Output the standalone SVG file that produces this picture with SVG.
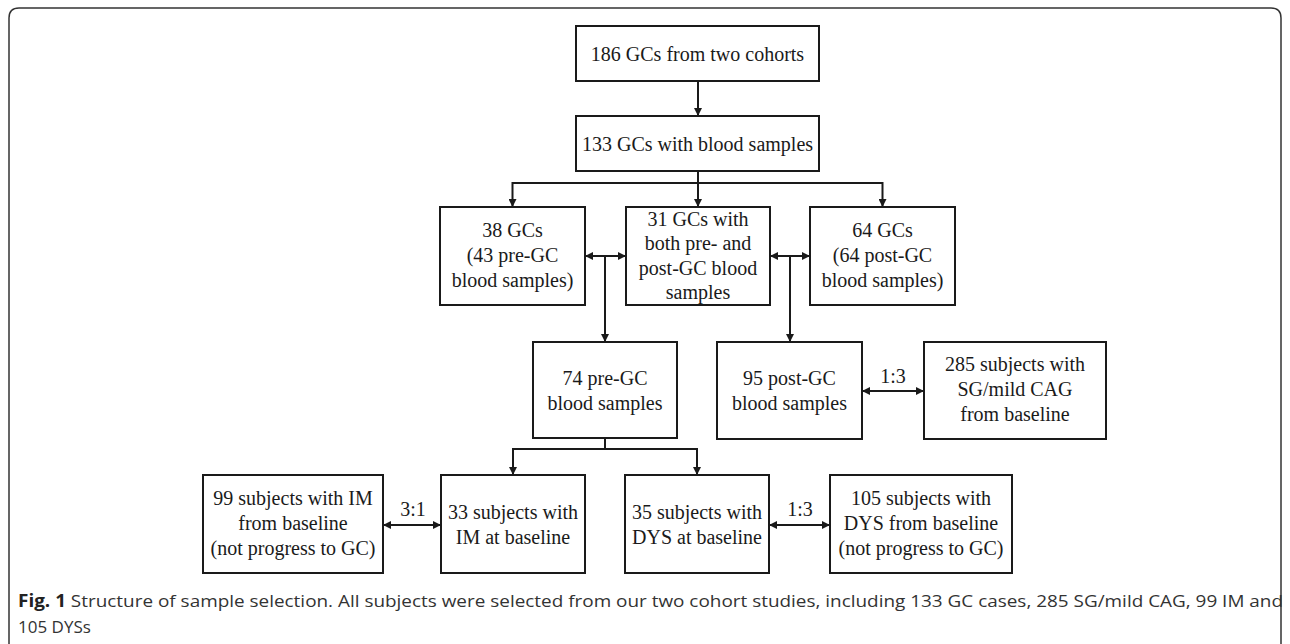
<svg xmlns="http://www.w3.org/2000/svg" width="1290" height="644" viewBox="0 0 1290 644">
<style>
.box{fill:#fff;stroke:#1a1a1a;stroke-width:2}
.t{font-family:"Liberation Serif","Times New Roman",serif;font-size:20px;fill:#1a1a1a;text-anchor:middle}
.c{fill:none;stroke:#1a1a1a;stroke-width:2}
.cap{font-family:"Open Sans","Noto Sans",sans-serif;font-size:17px;fill:#333}
</style>
<defs>
<marker id="ah" viewBox="0 0 10 10" refX="10" refY="5" markerWidth="8" markerHeight="8" markerUnits="userSpaceOnUse" orient="auto-start-reverse">
<path d="M0,0 L10,5 L0,10 z" fill="#1a1a1a"/>
</marker>
</defs>
<path d="M9,644 L9,18 Q9,8 19,8 L1271,8 Q1281,8 1281,18 L1281,644" fill="none" stroke="#333" stroke-width="1.5"/>
<g id="connectors">
<line class="c" x1="698" y1="81" x2="698" y2="116" marker-end="url(#ah)"/>
<line class="c" x1="698" y1="171" x2="698" y2="207" marker-end="url(#ah)"/>
<polyline class="c" points="512.5,207 512.5,183 882.5,183 882.5,207" marker-start="url(#ah)" marker-end="url(#ah)"/>
<line class="c" x1="585" y1="256" x2="626" y2="256" marker-start="url(#ah)" marker-end="url(#ah)"/>
<line class="c" x1="605" y1="256" x2="605" y2="342" marker-end="url(#ah)"/>
<line class="c" x1="770" y1="256" x2="810" y2="256" marker-start="url(#ah)" marker-end="url(#ah)"/>
<line class="c" x1="790" y1="256" x2="790" y2="342" marker-end="url(#ah)"/>
<line class="c" x1="862" y1="391" x2="924" y2="391" marker-start="url(#ah)" marker-end="url(#ah)"/>
<line class="c" x1="605" y1="438" x2="605" y2="449"/>
<polyline class="c" points="513,475 513,449 697,449 697,475" marker-start="url(#ah)" marker-end="url(#ah)"/>
<line class="c" x1="383" y1="525" x2="441" y2="525" marker-start="url(#ah)" marker-end="url(#ah)"/>
<line class="c" x1="769" y1="525" x2="830" y2="525" marker-start="url(#ah)" marker-end="url(#ah)"/>
<text class="t" x="893" y="383">1:3</text>
<text class="t" x="413" y="516">3:1</text>
<text class="t" x="800" y="516">1:3</text>
</g>
<g id="n1"><rect class="box" x="576" y="26" width="243" height="55"/><text class="t" x="697.5" y="60.5">186 GCs from two cohorts</text></g>
<g id="n2"><rect class="box" x="576" y="116" width="243" height="55"/><text class="t" x="697.5" y="150.5">133 GCs with blood samples</text></g>
<g id="n3"><rect class="box" x="440" y="207" width="145" height="98"/>
<text class="t" x="512.5" y="237">38 GCs</text><text class="t" x="512.5" y="262">(43 pre-GC</text><text class="t" x="512.5" y="287">blood samples)</text></g>
<g id="n4"><rect class="box" x="626" y="207" width="144" height="98"/>
<text class="t" x="698" y="225.5">31 GCs with</text><text class="t" x="698" y="250">both pre- and</text><text class="t" x="698" y="274.5">post-GC blood</text><text class="t" x="698" y="299">samples</text></g>
<g id="n5"><rect class="box" x="810" y="207" width="145" height="98"/>
<text class="t" x="882.5" y="237">64 GCs</text><text class="t" x="882.5" y="262">(64 post-GC</text><text class="t" x="882.5" y="287">blood samples)</text></g>
<g id="n6"><rect class="box" x="533" y="342" width="144" height="96"/>
<text class="t" x="605" y="384.5">74 pre-GC</text><text class="t" x="605" y="409.5">blood samples</text></g>
<g id="n7"><rect class="box" x="717" y="342" width="145" height="97"/>
<text class="t" x="789.5" y="384.5">95 post-GC</text><text class="t" x="789.5" y="409.5">blood samples</text></g>
<g id="n8"><rect class="box" x="924" y="342" width="182" height="97"/>
<text class="t" x="1015" y="371">285 subjects with</text><text class="t" x="1015" y="396">SG/mild CAG</text><text class="t" x="1015" y="421">from baseline</text></g>
<g id="n9"><rect class="box" x="203" y="475" width="180" height="98"/>
<text class="t" x="293" y="505">99 subjects with IM</text><text class="t" x="293" y="530">from baseline</text><text class="t" x="293" y="555">(not progress to GC)</text></g>
<g id="n10"><rect class="box" x="441" y="475" width="144" height="98"/>
<text class="t" x="513" y="518.5">33 subjects with</text><text class="t" x="513" y="543.5">IM at baseline</text></g>
<g id="n11"><rect class="box" x="625" y="475" width="144" height="98"/>
<text class="t" x="697" y="518.5">35 subjects with</text><text class="t" x="697" y="543.5">DYS at baseline</text></g>
<g id="n12"><rect class="box" x="830" y="475" width="182" height="98"/>
<text class="t" x="921" y="505">105 subjects with</text><text class="t" x="921" y="530">DYS from baseline</text><text class="t" x="921" y="555">(not progress to GC)</text></g>
<text class="cap" x="18" y="607" textLength="1265" lengthAdjust="spacingAndGlyphs"><tspan font-weight="bold" fill="#222">Fig. 1</tspan> Structure of sample selection. All subjects were selected from our two cohort studies, including 133 GC cases, 285 SG/mild CAG, 99 IM and</text>
<text class="cap" x="18" y="633">105 DYSs</text>
</svg>
